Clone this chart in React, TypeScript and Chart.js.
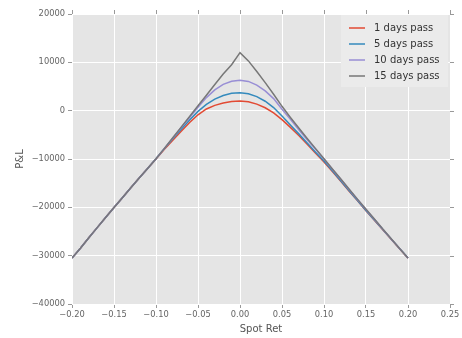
import React, { useEffect, useRef } from "react";
import { Chart, registerables } from "chart.js";

Chart.register(...registerables);

const spotRet = [
  -0.2, -0.19, -0.18, -0.17, -0.16, -0.15, -0.14, -0.13, -0.12, -0.11,
  -0.1, -0.09, -0.08, -0.07, -0.06, -0.05, -0.04, -0.03, -0.02, -0.01,
  0.0, 0.01, 0.02, 0.03, 0.04, 0.05, 0.06, 0.07, 0.08, 0.09,
  0.1, 0.11, 0.12, 0.13, 0.14, 0.15, 0.16, 0.17, 0.18, 0.19, 0.2,
];

const pnl1Day = [
  -30500, -28450, -26300, -24200, -22100, -20050, -18000, -15950, -13950, -11950,
  -10000, -8000, -6100, -4250, -2450, -850, 350, 1100, 1600, 1900,
  2000, 1850, 1350, 600, -450, -1850, -3450, -5150, -6950, -8800,
  -10600, -12600, -14600, -16650, -18650, -20700, -22650, -24650, -26600, -28550, -30550,
];

const pnl5Days = [
  -30500, -28450, -26300, -24200, -22100, -20050, -18000, -15950, -13950, -11950,
  -9950, -7850, -5800, -3850, -1950, -150, 1300, 2400, 3150, 3600,
  3700, 3500, 2900, 1950, 650, -1100, -2950, -4800, -6700, -8600,
  -10400, -12450, -14500, -16550, -18600, -20650, -22600, -24600, -26550, -28500, -30500,
];

const pnl10Days = [
  -30500, -28450, -26300, -24200, -22100, -20050, -18000, -15950, -13950, -11950,
  -9950, -7800, -5650, -3500, -1400, 700, 2700, 4300, 5450, 6100,
  6300, 6050, 5300, 4100, 2500, 300, -1800, -3950, -6000, -8000,
  -10000, -12100, -14200, -16300, -18400, -20450, -22450, -24550, -26550, -28500, -30500,
];

const pnl15Days = [
  -30500, -28450, -26300, -24200, -22100, -20050, -18000, -15950, -13950, -11950,
  -9950, -7800, -5600, -3400, -1200, 1000, 3200, 5400, 7600, 9500,
  12000, 10300, 8100, 5800, 3400, 900, -1400, -3600, -5750, -7850,
  -9950, -12050, -14150, -16250, -18350, -20400, -22400, -24500, -26500, -28500, -30500,
];

const seriesLabels = ["1 days pass", "5 days pass", "10 days pass", "15 days pass"];
const seriesColors = ["#E24A33", "#348ABD", "#988ED5", "#777777"];
const xTicks = [-0.2, -0.15, -0.1, -0.05, 0.0, 0.05, 0.1, 0.15, 0.2, 0.25];
const yTicks = [-40000, -30000, -20000, -10000, 0, 10000, 20000];

const FONT = "'DejaVu Sans', 'Liberation Sans', sans-serif";
const TICK_COLOR = "#999999";

export default function App() {
  const ref = useRef<HTMLCanvasElement>(null);

  useEffect(() => {
    document.body.style.margin = "0";
    const canvas = ref.current;
    if (!canvas) return;

    const allSeries = [pnl1Day, pnl5Days, pnl10Days, pnl15Days];
    const toPts = (ys: number[]) => spotRet.map((x, i) => ({ x, y: ys[i] }));

    const bgPlugin = {
      id: "plotBg",
      beforeDraw(chart: any) {
        const { ctx, chartArea } = chart;
        ctx.save();
        ctx.fillStyle = "#E5E5E5";
        ctx.fillRect(chartArea.left, chartArea.top, chartArea.right - chartArea.left, chartArea.bottom - chartArea.top);
        ctx.restore();
      },
    };

    const frameTicksPlugin = {
      id: "frameTicks",
      afterDraw(chart: any) {
        const { ctx, chartArea, scales } = chart;
        ctx.save();
        ctx.strokeStyle = TICK_COLOR;
        ctx.lineWidth = 1;
        ctx.beginPath();
        xTicks.forEach((v) => {
          const px = Math.round(scales.x.getPixelForValue(v)) + 0.5;
          ctx.moveTo(px, chartArea.top);
          ctx.lineTo(px, chartArea.top - 4);
        });
        yTicks.forEach((v) => {
          const py = Math.round(scales.y.getPixelForValue(v)) + 0.5;
          ctx.moveTo(chartArea.right, py);
          ctx.lineTo(chartArea.right + 4, py);
        });
        ctx.stroke();
        ctx.restore();
      },
    };

    const legendPlugin = {
      id: "insideLegend",
      afterDraw(chart: any) {
        const { ctx, chartArea } = chart;
        const w = 107;
        const h = 72;
        const left = chartArea.right - w - 2;
        const top = chartArea.top + 1;
        ctx.save();
        ctx.fillStyle = "#EBEBEB";
        ctx.fillRect(left, top, w, h);
        ctx.font = `10px ${FONT}`;
        ctx.textBaseline = "middle";
        ctx.textAlign = "left";
        seriesLabels.forEach((label, i) => {
          const y = top + 13 + i * 16;
          ctx.strokeStyle = seriesColors[i];
          ctx.lineWidth = 1.5;
          ctx.beginPath();
          ctx.moveTo(left + 8, y);
          ctx.lineTo(left + 24, y);
          ctx.stroke();
          ctx.fillStyle = "#333333";
          ctx.fillText(label, left + 33, y);
        });
        ctx.restore();
      },
    };

    const fmt = (s: string) => s.replace("-", "\u2212");

    const chart = new Chart(canvas, {
      type: "scatter",
      data: {
        datasets: allSeries.map((ys, i) => ({
          label: seriesLabels[i],
          data: toPts(ys),
          showLine: true,
          borderColor: seriesColors[i],
          backgroundColor: seriesColors[i],
          borderWidth: 1.5,
          pointRadius: 0,
          tension: 0,
          order: 3 - i,
        })),
      },
      options: {
        animation: false,
        responsive: false,
        maintainAspectRatio: false,
        layout: { padding: { top: 14, right: 12, left: 0, bottom: 0 } },
        plugins: {
          legend: { display: false },
          tooltip: { enabled: false },
        },
        scales: {
          x: {
            type: "linear",
            min: -0.2,
            max: 0.25,
            afterBuildTicks: (scale: any) => {
              scale.ticks = xTicks.map((v) => ({ value: v }));
            },
            afterFit: (scale: any) => {
              scale.height = 34;
            },
            ticks: {
              autoSkip: false,
              maxRotation: 0,
              padding: 2,
              color: "#666666",
              font: { family: FONT, size: 8.3 },
              callback: (v: any) => fmt(Number(v).toFixed(2)),
            },
            grid: {
              color: "#FFFFFF",
              lineWidth: 1,
              tickColor: TICK_COLOR,
              tickLength: 4,
            },
            border: { display: false },
            title: {
              display: true,
              text: "Spot Ret",
              color: "#555555",
              font: { family: FONT, size: 10 },
              padding: { top: 0, bottom: 3 },
            },
          },
          y: {
            type: "linear",
            min: -40000,
            max: 20000,
            afterBuildTicks: (scale: any) => {
              scale.ticks = yTicks.map((v) => ({ value: v }));
            },
            afterFit: (scale: any) => {
              scale.width = 72;
            },
            ticks: {
              autoSkip: false,
              padding: 3,
              color: "#666666",
              font: { family: FONT, size: 8.3 },
              callback: (v: any) => fmt(String(Math.round(Number(v)))),
            },
            grid: {
              color: "#FFFFFF",
              lineWidth: 1,
              tickColor: TICK_COLOR,
              tickLength: 4,
            },
            border: { display: false },
            title: {
              display: true,
              text: "P&L",
              color: "#555555",
              font: { family: FONT, size: 10 },
              padding: { top: 14, bottom: 0 },
            },
          },
        },
      },
      plugins: [bgPlugin, frameTicksPlugin, legendPlugin],
    } as any);

    return () => chart.destroy();
  }, []);

  return (
    <div style={{ position: "fixed", left: 0, top: 0, width: 462, height: 338, background: "#FFFFFF" }}>
      <canvas ref={ref} width={462} height={338} style={{ display: "block", width: 462, height: 338 }} />
    </div>
  );
}
